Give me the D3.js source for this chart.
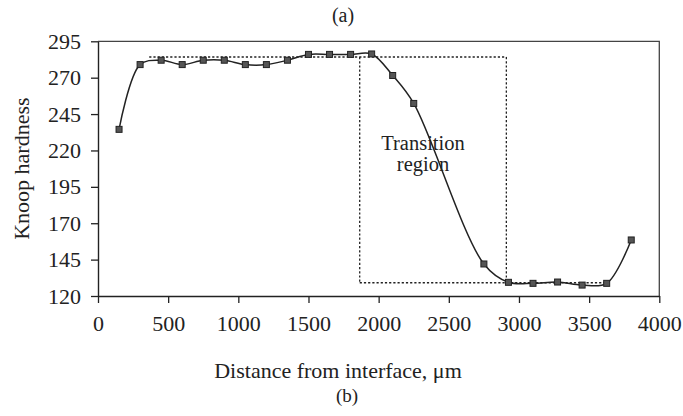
<html lang="en"><head>
<meta charset="utf-8">
<title>Knoop hardness profile</title>
<script type="text/javascript" src="https://cdn.jsdelivr.net/npm/d3@7"></script>
<style type="text/css">
  body { margin: 0; background: #fff; }
  text { font-family: "Liberation Serif", "DejaVu Serif", serif; fill: #222; }
</style>
</head>
<body>
<script type="text/javascript">

// data
var distance = [150, 300, 450, 600, 750, 900, 1050, 1200, 1350, 1500, 1650,
                1800, 1950, 2100, 2250, 2750, 2925, 3100, 3275, 3450, 3625, 3800];
var hardness = [234.5, 279, 282, 279, 282, 282, 279, 279, 282, 286, 286,
                286, 286.3, 271.5, 252.3, 142, 129.4, 128.7, 129.6, 127.5, 128.7, 158.5];

// dashed outline: plateau and transition region
var boxX = [365, 1865, 1865, 2910, 2910, 3625];
var boxY = [284.2, 284.2, 129.1, 129.1, 284.2, 129.1];

var xTicks = [0, 500, 1000, 1500, 2000, 2500, 3000, 3500, 4000];
var yTicks = [120, 145, 170, 195, 220, 245, 270, 295];

var W = 683, H = 416;
var mLeft = 98, mTop = 41.3, mRight = 659.3, mBottom = 296;

var svg = d3.select("body").append("svg")
            .attr("width", W)
            .attr("height", H);

var x = d3.scaleLinear().domain([0, 4000]).range([mLeft, mRight]);
var y = d3.scaleLinear().domain([120, 295]).range([mBottom, mTop]);

// frame top and right
svg.append("path")
   .attr("d", "M" + mLeft + "," + mTop + "H" + mRight + "V" + mBottom)
   .attr("fill", "none")
   .attr("stroke", "#444")
   .attr("stroke-width", 1.3);

var xAxis = svg.append("g")
   .attr("transform", "translate(0," + mBottom + ")")
   .call(d3.axisBottom(x).tickValues(xTicks).tickFormat(d3.format("d"))
           .tickSize(7).tickPadding(12).tickSizeOuter(0));

var yAxis = svg.append("g")
   .attr("transform", "translate(" + mLeft + ",0)")
   .call(d3.axisLeft(y).tickValues(yTicks).tickFormat(d3.format("d"))
           .tickSize(7).tickPadding(10).tickSizeOuter(0));

[xAxis, yAxis].forEach(function(g) {
  g.select(".domain").attr("stroke", "#222").attr("stroke-width", 1.4);
  g.selectAll(".tick line").attr("stroke", "#222").attr("stroke-width", 1.3);
  g.selectAll(".tick text")
   .attr("font-family", "Liberation Serif, serif")
   .attr("font-size", "22px")
   .attr("fill", "#222");
});

// dashed box, drawn as separate segments
var segs = [[0, 4], [1, 2], [2, 5], [4, 3]];
svg.selectAll("line.box")
   .data(segs)
   .enter()
   .append("line")
   .attr("class", "box")
   .attr("x1", function(d) { return x(boxX[d[0]]); })
   .attr("y1", function(d) { return y(boxY[d[0]]); })
   .attr("x2", function(d) { return x(boxX[d[1]]); })
   .attr("y2", function(d) { return y(boxY[d[1]]); })
   .attr("stroke", "#222")
   .attr("stroke-width", 1.3)
   .attr("stroke-dasharray", "2.2,2");

var pts = distance.map(function(d, i) { return [d, hardness[i]]; });

var line = d3.line()
   .x(function(d) { return x(d[0]); })
   .y(function(d) { return y(d[1]); })
   .curve(d3.curveCatmullRom.alpha(0.5));

svg.append("path")
   .datum(pts)
   .attr("d", line)
   .attr("fill", "none")
   .attr("stroke", "#222")
   .attr("stroke-width", 1.5);

svg.selectAll("rect.pt")
   .data(pts)
   .enter()
   .append("rect")
   .attr("class", "pt")
   .attr("x", function(d) { return x(d[0]) - 3; })
   .attr("y", function(d) { return y(d[1]) - 3; })
   .attr("width", 6)
   .attr("height", 6)
   .attr("fill", "#555")
   .attr("stroke", "#222")
   .attr("stroke-width", 1);

// annotation, two lines in one text element
var note = svg.append("text")
   .attr("x", 423).attr("y", 149.5)
   .attr("text-anchor", "middle")
   .attr("font-size", "20.5px");
note.append("tspan").attr("x", 423).text("Transition");
note.append("tspan").attr("x", 423).attr("dy", 21).text("region");

// titles
svg.append("text")
   .attr("x", 338).attr("y", 378)
   .attr("text-anchor", "middle")
   .attr("font-size", "22px")
   .text("Distance from interface, \u03bcm");

svg.append("text")
   .attr("transform", "translate(29," + ((mTop + mBottom) / 2) + ") rotate(-90)")
   .attr("text-anchor", "middle")
   .attr("font-size", "22px")
   .text("Knoop hardness");

svg.append("text")
   .attr("x", 343).attr("y", 22)
   .attr("text-anchor", "middle")
   .attr("font-size", "20px")
   .text("(a)");

svg.append("text")
   .attr("x", 347).attr("y", 402)
   .attr("text-anchor", "middle")
   .attr("font-size", "19px")
   .text("(b)");

</script>
</body></html>
